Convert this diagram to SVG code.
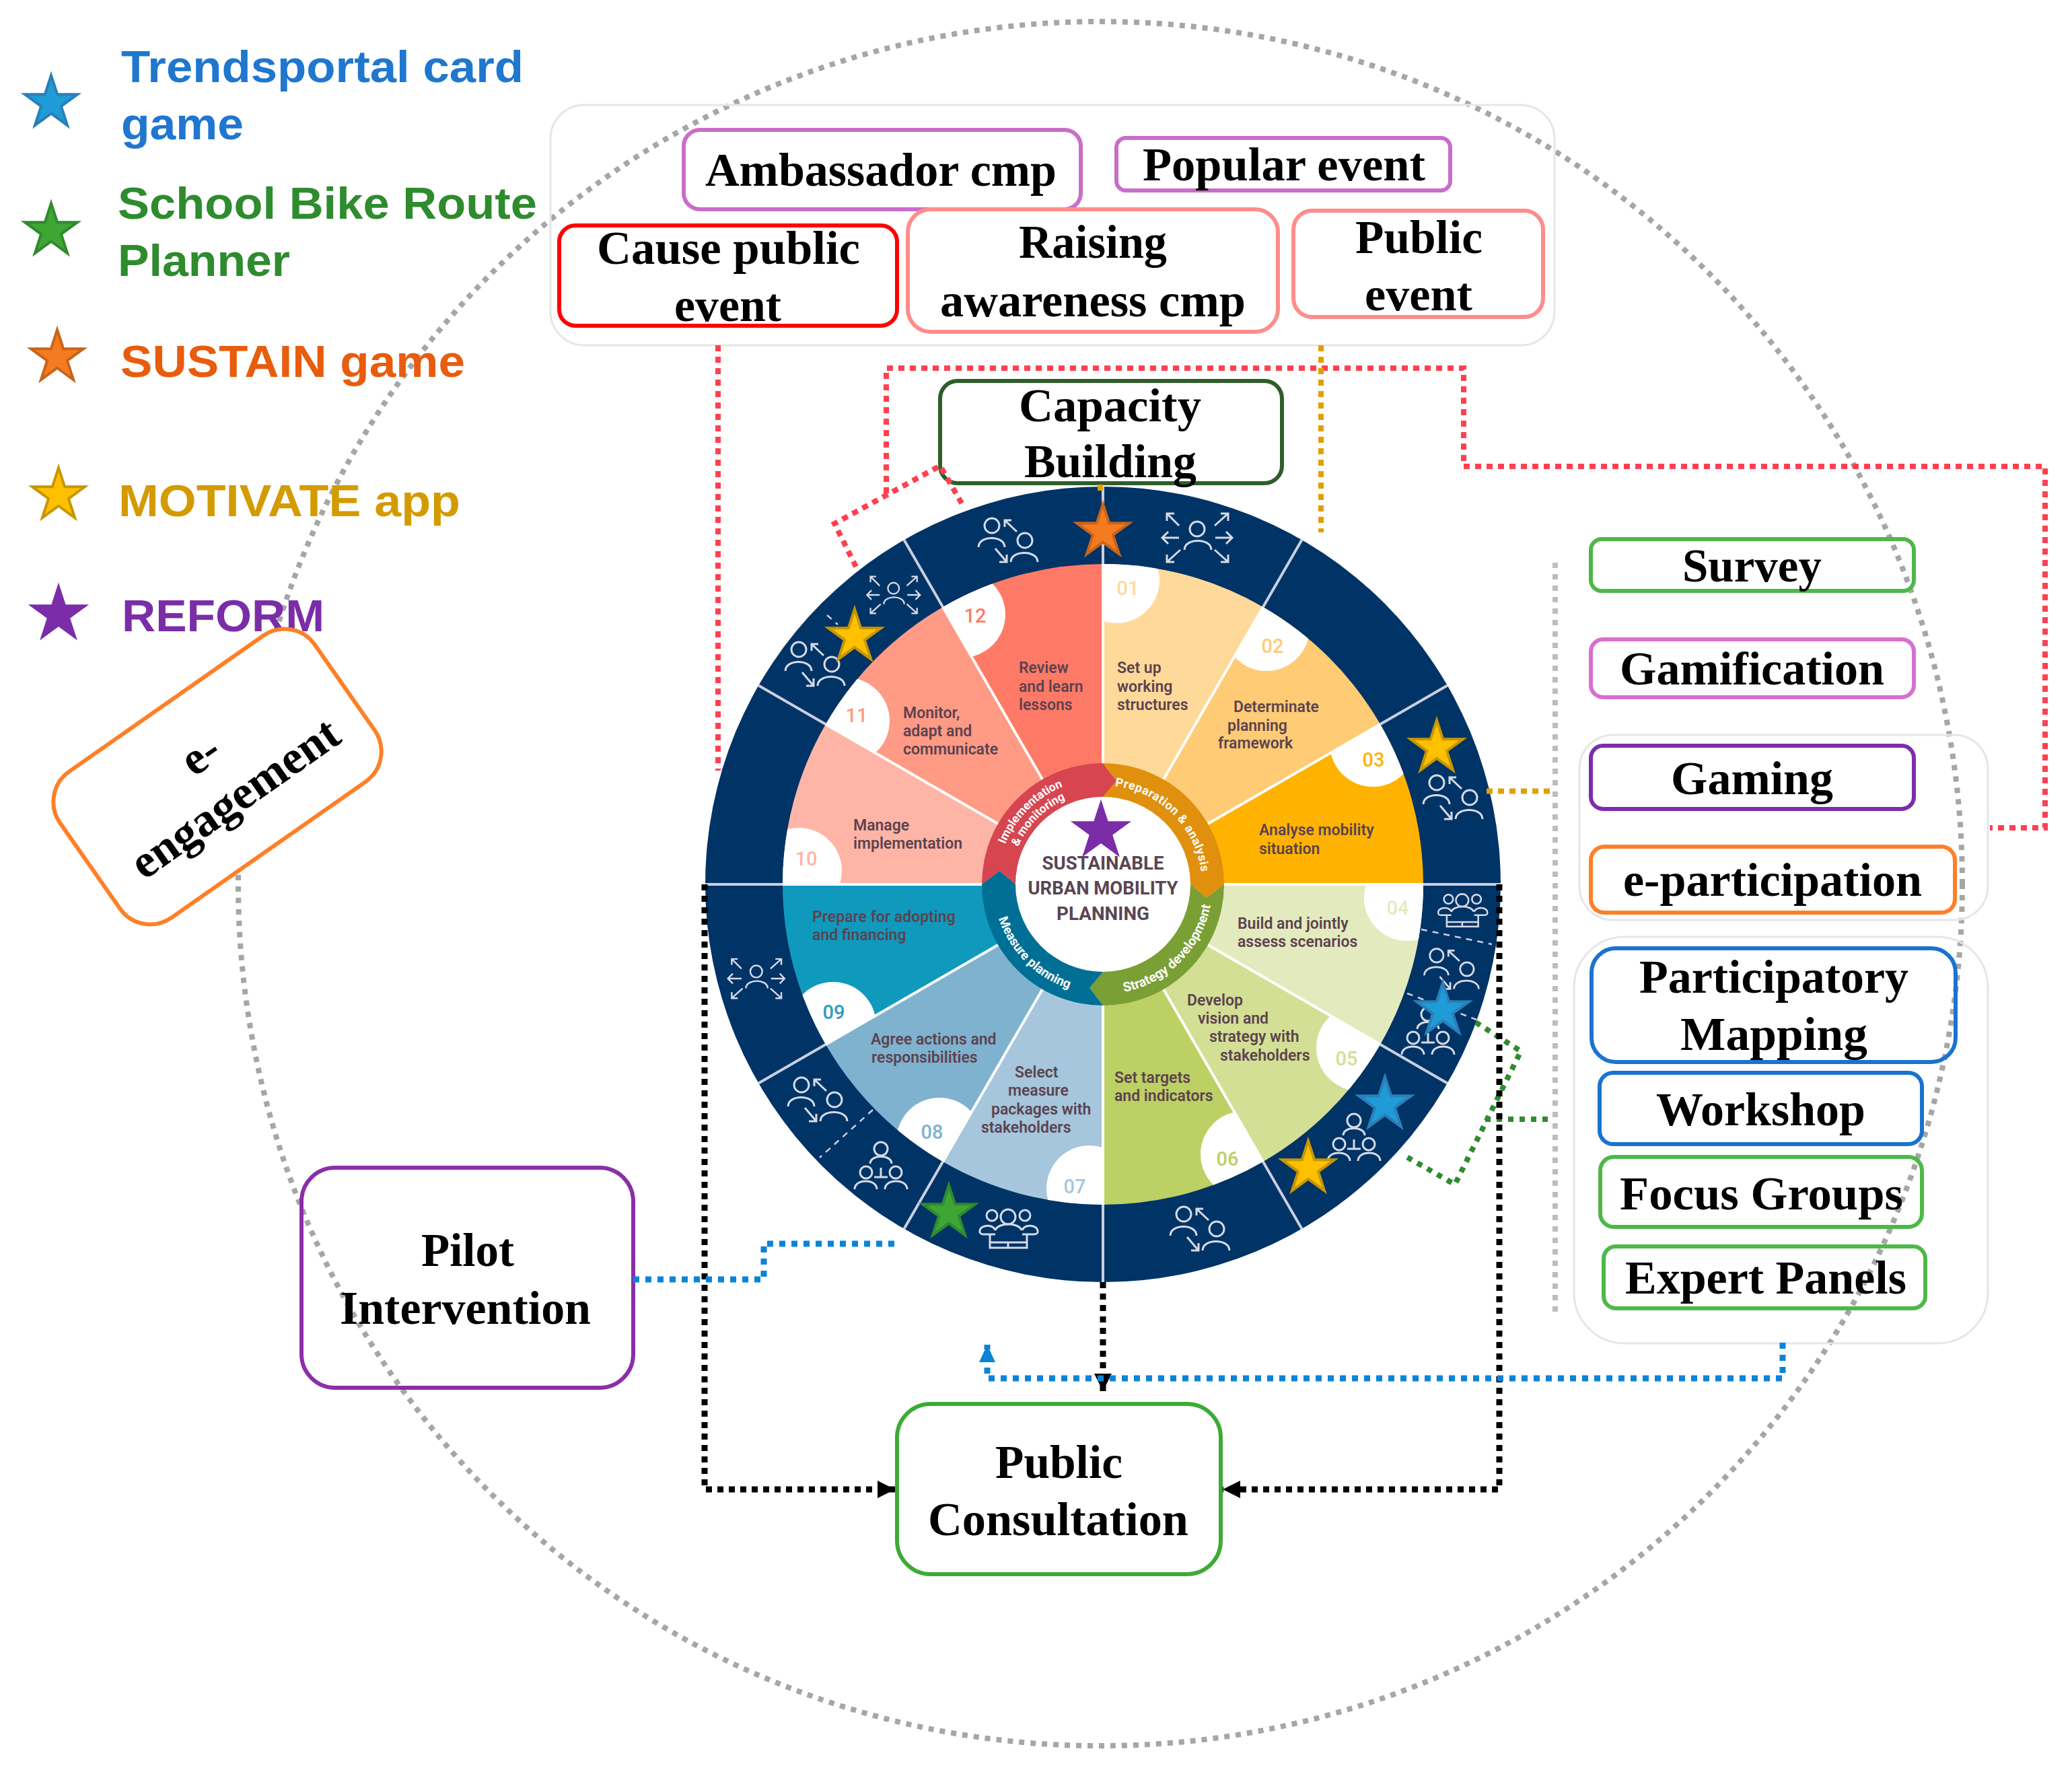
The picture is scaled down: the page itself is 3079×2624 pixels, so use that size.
<svg xmlns="http://www.w3.org/2000/svg" xmlns:xlink="http://www.w3.org/1999/xlink" width="3079" height="2624" viewBox="0 0 3079 2624">
<style>
text{font-family:"Liberation Serif","Times New Roman",serif}
.b{font-family:"Liberation Serif","Times New Roman",serif;font-weight:700;font-size:70px;fill:#000}
.m{text-anchor:middle}
.leg{font-family:"Liberation Sans",Arial,sans-serif;font-weight:700;font-size:66px}
.box{fill:none;stroke-width:6}
.wt{font-family:Roboto,"Noto Sans",sans-serif;font-weight:600;font-size:23px;fill:#5c4350}
.num{font-family:Roboto,"Noto Sans",sans-serif;font-weight:500;font-size:29px;text-anchor:middle}
.ctr{font-family:Roboto,"Noto Sans",sans-serif;font-weight:700;font-size:27px;fill:#5a4552;text-anchor:middle}
.rt{font-family:Roboto,"Noto Sans",sans-serif;font-weight:700;font-size:18px;fill:#fff;text-anchor:middle}
.wsp{stroke:#fff;stroke-width:4;fill:none}
.nsp{stroke:#c9cfe0;stroke-width:4;fill:none}
.ndot{stroke:#c9cfe0;stroke-width:2.5;stroke-dasharray:9 8;fill:none}
.ico{fill:none;stroke:#d5dae6;stroke-width:3}
.con{fill:none;stroke-width:8}
.blk{stroke:#000;stroke-dasharray:9 8;stroke-width:9}
.red{stroke:#ff4050;stroke-dasharray:9 8}
.blu{stroke:#0a84d8;stroke-dasharray:9 9;stroke-width:9}
.gold{stroke:#e0a000;stroke-dasharray:9 8}
.grn{stroke:#2e8b2e;stroke-dasharray:8 9}
.gry{stroke:#bdbdbd;stroke-dasharray:8 9}
.st{stroke-width:4;stroke-linejoin:miter}
.group{fill:none;stroke:#e6e6e6;stroke-width:3}
</style>
<defs>
<polygon id="star" points="0,-41 9.2,-12.7 39,-12.7 14.9,4.8 24.1,33.2 0,15.7 -24.1,33.2 -14.9,4.8 -39,-12.7 -9.2,-12.7"/>
<path id="w1" d="M1639,1314L1639,838A476,476 0 0 1 1877,902Z"/>
<path id="w2" d="M1639,1314L1877,902A476,476 0 0 1 2051,1076Z"/>
<path id="w3" d="M1639,1314L2051,1076A476,476 0 0 1 2115,1314Z"/>
<path id="w4" d="M1639,1314L2115,1314A476,476 0 0 1 2051,1552Z"/>
<path id="w5" d="M1639,1314L2051,1552A476,476 0 0 1 1877,1726Z"/>
<path id="w6" d="M1639,1314L1877,1726A476,476 0 0 1 1639,1790Z"/>
<path id="w7" d="M1639,1314L1639,1790A476,476 0 0 1 1401,1726Z"/>
<path id="w8" d="M1639,1314L1401,1726A476,476 0 0 1 1227,1552Z"/>
<path id="w9" d="M1639,1314L1227,1552A476,476 0 0 1 1163,1314Z"/>
<path id="w10" d="M1639,1314L1163,1314A476,476 0 0 1 1227,1076Z"/>
<path id="w11" d="M1639,1314L1227,1076A476,476 0 0 1 1401,902Z"/>
<path id="w12" d="M1639,1314L1401,902A476,476 0 0 1 1639,838Z"/>
<clipPath id="c1"><use href="#w1"/></clipPath><clipPath id="c2"><use href="#w2"/></clipPath><clipPath id="c3"><use href="#w3"/></clipPath><clipPath id="c4"><use href="#w4"/></clipPath><clipPath id="c5"><use href="#w5"/></clipPath><clipPath id="c6"><use href="#w6"/></clipPath><clipPath id="c7"><use href="#w7"/></clipPath><clipPath id="c8"><use href="#w8"/></clipPath><clipPath id="c9"><use href="#w9"/></clipPath><clipPath id="c10"><use href="#w10"/></clipPath><clipPath id="c11"><use href="#w11"/></clipPath><clipPath id="c12"><use href="#w12"/></clipPath>
<g id="icoA" class="ico"><circle cx="-23" cy="-22" r="11"/><path d="M-43,10C-43,-8 -4,-8 -4,10"/><circle cx="26" cy="0" r="11"/><path d="M5,32C5,14 45,14 45,32"/><path d="M14,-13L-4,-30M-4,-20V-30H6"/><path d="M-18,12L-1,32M-1,21V32H-12"/></g>
<g id="icoB" class="ico"><circle cx="1" cy="-13" r="11"/><path d="M-18,18C-18,0 22,0 22,18"/><path d="M-26,-18L-44,-36M-44,-25V-36H-33M27,-18L47,-36M36,-36H47V-25M-26,0H-51M-42,-9L-51,0L-42,9M28,0H53M44,-9L53,0L44,9M-24,18L-44,36M-44,25V36H-33M27,18L47,36M47,25V36H36"/></g>
<g id="icoC" class="ico"><circle cx="0" cy="-26" r="10"/><path d="M-16,-4C-16,-18 16,-18 16,-4"/><circle cx="-22" cy="9" r="9"/><path d="M-39,34C-39,18 -6,18 -6,34"/><circle cx="22" cy="9" r="9"/><path d="M6,34C6,18 39,18 39,34"/><path d="M-10,16H10M0,2V16"/></g>
<g id="icoD" class="ico"><circle cx="-23" cy="-20" r="8"/><circle cx="1" cy="-18" r="11"/><circle cx="26" cy="-20" r="8"/><path d="M-26,8V28H29V8M-26,20H29M1,20V28M-18,2C-14,-10 17,-10 21,2M-18,8H-36C-44,8 -42,-2 -34,-4C-28,-6 -20,-4 -18,2M22,8H40C48,8 46,-2 38,-4C32,-6 24,-4 22,2"/></g>
<marker id="ak" markerUnits="userSpaceOnUse" markerWidth="28" markerHeight="28" refX="26" refY="14" orient="auto"><path d="M0,1L26,14L0,27Z" fill="#000"/></marker>
<marker id="ab" markerUnits="userSpaceOnUse" markerWidth="28" markerHeight="26" refX="26" refY="13" orient="auto"><path d="M0,1L26,13L0,25Z" fill="#0a84d8"/></marker>
<path id="pPrep" d="M1639,1167A147,147 0 0 1 1786,1314"/>
<path id="pStrat" d="M1639,1477A163,163 0 0 0 1802,1314"/>
<path id="pMeas" d="M1476,1314A163,163 0 0 0 1639,1477"/>
<path id="pImp1" d="M1482,1314A157,157 0 0 1 1639,1157"/>
<path id="pImp2" d="M1501,1314A138,138 0 0 1 1639,1176"/>
</defs>
<rect width="3079" height="2624" fill="#fff"/>

<circle id="outer-dotted-circle" cx="1635" cy="1313" r="1281" fill="none" stroke="#a6a6a6" stroke-width="8" stroke-dasharray="8 9"/>
<rect class="group" x="818" y="156" width="1492" height="357" rx="50"/>
<rect class="group" x="2347" y="1092" width="607" height="275" rx="50"/>
<rect class="group" x="2339" y="1392" width="615" height="604" rx="75"/>

<g id="legend">
<g id="legend-trendsportal"><use href="#star" class="st" x="76" y="153" fill="#1f9bd7" stroke="#2a7fb8"/><text class="leg" x="180" y="122" fill="#1f77cf" textLength="598" lengthAdjust="spacingAndGlyphs">Trendsportal card</text><text class="leg" x="180" y="207" fill="#1f77cf" textLength="182" lengthAdjust="spacingAndGlyphs">game</text></g>
<g id="legend-school"><use href="#star" class="st" x="76" y="343" fill="#3fa535" stroke="#2e8b2e"/><text class="leg" x="175" y="325" fill="#2e8b2e" textLength="623" lengthAdjust="spacingAndGlyphs">School Bike Route</text><text class="leg" x="175" y="410" fill="#2e8b2e" textLength="256" lengthAdjust="spacingAndGlyphs">Planner</text></g>
<g id="legend-sustain"><use href="#star" class="st" x="85" y="531" fill="#f47b20" stroke="#c9641a"/><text class="leg" x="179" y="560" fill="#e85c0d" textLength="512" lengthAdjust="spacingAndGlyphs">SUSTAIN game</text></g>
<g id="legend-motivate"><use href="#star" class="st" x="87" y="736" fill="#ffc000" stroke="#c89600"/><text class="leg" x="176" y="767" fill="#d49b00" textLength="508" lengthAdjust="spacingAndGlyphs">MOTIVATE app</text></g>
<g id="legend-reform"><use href="#star" class="st" x="87" y="913" fill="#7b2da8" stroke="#7b2da8"/><text class="leg" x="181" y="938" fill="#7b2da8" textLength="301" lengthAdjust="spacingAndGlyphs">REFORM</text></g>
</g>

<g id="e-engagement" transform="rotate(-35 323 1154)">
<rect x="92" y="1021.500" width="462" height="265" rx="55" fill="#fff" stroke="#ff7f27" stroke-width="6"/>
<text class="b m" x="321" y="1135">e-</text>
<text class="b m" x="326" y="1218" textLength="362" lengthAdjust="spacingAndGlyphs">engagement</text>
</g>

<g id="wheel">
<circle cx="1639" cy="1314" r="591" fill="#003366"/>
<use href="#w1" fill="#ffd99a"/><use href="#w2" fill="#ffcb75"/><use href="#w3" fill="#ffb300"/><use href="#w4" fill="#e3ebbe"/><use href="#w5" fill="#d3df94"/><use href="#w6" fill="#bdd063"/><use href="#w7" fill="#a5c6dc"/><use href="#w8" fill="#7fb2ce"/><use href="#w9" fill="#0f9abd"/><use href="#w10" fill="#ffb5a5"/><use href="#w11" fill="#ff9a85"/><use href="#w12" fill="#ff7a66"/>
<g fill="#fff">
<circle cx="1659" cy="862" r="64" clip-path="url(#c1)"/><circle cx="1882" cy="933" r="64" clip-path="url(#c2)"/><circle cx="2040" cy="1105" r="64" clip-path="url(#c3)"/><circle cx="2091" cy="1334" r="64" clip-path="url(#c4)"/><circle cx="2020" cy="1557" r="64" clip-path="url(#c5)"/><circle cx="1848" cy="1715" r="64" clip-path="url(#c6)"/><circle cx="1619" cy="1766" r="64" clip-path="url(#c7)"/><circle cx="1396" cy="1695" r="64" clip-path="url(#c8)"/><circle cx="1238" cy="1523" r="64" clip-path="url(#c9)"/><circle cx="1187" cy="1294" r="64" clip-path="url(#c10)"/><circle cx="1258" cy="1071" r="64" clip-path="url(#c11)"/><circle cx="1430" cy="913" r="64" clip-path="url(#c12)"/>
</g>
<g class="wsp">
<path d="M1639,1134V838"/><path d="M1639,1134V838" transform="rotate(30 1639 1314)"/><path d="M1639,1134V838" transform="rotate(60 1639 1314)"/><path d="M1639,1134V838" transform="rotate(90 1639 1314)"/><path d="M1639,1134V838" transform="rotate(120 1639 1314)"/><path d="M1639,1134V838" transform="rotate(150 1639 1314)"/><path d="M1639,1134V838" transform="rotate(180 1639 1314)"/><path d="M1639,1134V838" transform="rotate(210 1639 1314)"/><path d="M1639,1134V838" transform="rotate(240 1639 1314)"/><path d="M1639,1134V838" transform="rotate(270 1639 1314)"/><path d="M1639,1134V838" transform="rotate(300 1639 1314)"/><path d="M1639,1134V838" transform="rotate(330 1639 1314)"/>
</g>
<g class="nsp">
<path d="M1639,838V723"/><path d="M1639,838V723" transform="rotate(30 1639 1314)"/><path d="M1639,838V723" transform="rotate(60 1639 1314)"/><path d="M1639,838V723" transform="rotate(90 1639 1314)"/><path d="M1639,838V723" transform="rotate(120 1639 1314)"/><path d="M1639,838V723" transform="rotate(150 1639 1314)"/><path d="M1639,838V723" transform="rotate(180 1639 1314)"/><path d="M1639,838V723" transform="rotate(210 1639 1314)"/><path d="M1639,838V723" transform="rotate(240 1639 1314)"/><path d="M1639,838V723" transform="rotate(270 1639 1314)"/><path d="M1639,838V723" transform="rotate(300 1639 1314)"/><path d="M1639,838V723" transform="rotate(330 1639 1314)"/>
</g>
<g class="ndot"><path d="M1297,1649L1218,1720"/><path d="M2112,1381L2217,1403"/><path d="M2091,1476L2194,1515"/><path d="M1229,914L1245,928"/></g>
<circle cx="1639" cy="1314" r="132" fill="#fff"/>
<path d="M1459,1314A180,180 0 0 1 1639,1134L1659,1160.300L1639,1184A130,130 0 0 0 1509,1314L1485.300,1294Z" fill="#d64550"/>
<path d="M1639,1134A180,180 0 0 1 1819,1314L1792.700,1334L1769,1314A130,130 0 0 0 1639,1184L1659,1160.300Z" fill="#e0900c"/>
<path d="M1819,1314A180,180 0 0 1 1639,1494L1619,1467.700L1639,1444A130,130 0 0 0 1769,1314L1792.700,1334Z" fill="#7a9f35"/>
<path d="M1639,1494A180,180 0 0 1 1459,1314L1485.300,1294L1509,1314A130,130 0 0 0 1639,1444L1619,1467.700Z" fill="#006f96"/>
<text class="rt" letter-spacing=".6"><textPath href="#pPrep" startOffset="50%">Preparation &amp; analysis</textPath></text>
<text class="rt" style="font-size:19.500px"><textPath href="#pStrat" startOffset="50%">Strategy development</textPath></text>
<text class="rt" style="font-size:19px"><textPath href="#pMeas" startOffset="50%">Measure planning</textPath></text>
<text class="rt" style="font-size:17.500px"><textPath href="#pImp1" startOffset="50%">Implementation</textPath></text>
<text class="rt" style="font-size:17.500px"><textPath href="#pImp2" startOffset="50%">&amp; monitoring</textPath></text>
<text class="ctr" x="1639" y="1292" textLength="181" lengthAdjust="spacingAndGlyphs">SUSTAINABLE</text>
<text class="ctr" x="1639" y="1329" textLength="223" lengthAdjust="spacingAndGlyphs">URBAN MOBILITY</text>
<text class="ctr" x="1639" y="1367" textLength="138" lengthAdjust="spacingAndGlyphs">PLANNING</text>
<g>
<text class="num" x="1676" y="884" fill="#ffd99a">01</text><text class="num" x="1891" y="970" fill="#ffcb75">02</text><text class="num" x="2041" y="1139" fill="#ffb300">03</text><text class="num" x="2077" y="1359" fill="#e3ebbe">04</text><text class="num" x="2001" y="1583" fill="#d3df94">05</text><text class="num" x="1824" y="1732" fill="#bdd063">06</text><text class="num" x="1597" y="1773" fill="#a5c6dc">07</text><text class="num" x="1385" y="1692" fill="#7fb2ce">08</text><text class="num" x="1239" y="1514" fill="#2e9cbe">09</text><text class="num" x="1198" y="1286" fill="#ffb5a5">10</text><text class="num" x="1273" y="1073" fill="#ff9a85">11</text><text class="num" x="1449" y="925" fill="#ff7a66">12</text>
</g>
<g>
<text class="wt" x="1514" y="1000">Review</text><text class="wt" x="1514" y="1028">and learn</text><text class="wt" x="1514" y="1055">lessons</text>
<text class="wt" x="1342" y="1067">Monitor,</text><text class="wt" x="1342" y="1094">adapt and</text><text class="wt" x="1342" y="1121">communicate</text>
<text class="wt" x="1268" y="1234">Manage</text><text class="wt" x="1268" y="1261">implementation</text>
<text class="wt" x="1660" y="1000">Set up</text><text class="wt" x="1660" y="1028">working</text><text class="wt" x="1660" y="1055">structures</text>
<text class="wt" x="1833" y="1058">Determinate</text><text class="wt" x="1824" y="1086">planning</text><text class="wt" x="1810" y="1112">framework</text>
<text class="wt" x="1871" y="1241">Analyse mobility</text><text class="wt" x="1871" y="1269">situation</text>
<text class="wt" x="1839" y="1380">Build and jointly</text><text class="wt" x="1839" y="1407">assess scenarios</text>
<text class="wt" x="1764" y="1494">Develop</text><text class="wt" x="1780" y="1521">vision and</text><text class="wt" x="1797" y="1548">strategy with</text><text class="wt" x="1813" y="1576">stakeholders</text>
<text class="wt" x="1656" y="1609">Set targets</text><text class="wt" x="1656" y="1636">and indicators</text>
<text class="wt" x="1207" y="1370">Prepare for adopting</text><text class="wt" x="1207" y="1397">and financing</text>
<text class="wt" x="1294" y="1552">Agree actions and</text><text class="wt" x="1295" y="1579">responsibilities</text>
<text class="wt" x="1508" y="1601">Select</text><text class="wt" x="1498" y="1628">measure</text><text class="wt" x="1473" y="1656">packages with</text><text class="wt" x="1458" y="1683">stakeholders</text>
</g>
<g>
<use href="#icoA" transform="translate(1497 803)"/><use href="#icoA" transform="translate(1210 987)"/><use href="#icoA" transform="translate(2158 1185)"/><use href="#icoA" transform="translate(2156 1440) scale(.92)"/><use href="#icoA" transform="translate(1782 1826)"/><use href="#icoA" transform="translate(1214 1634)"/>
<use href="#icoB" transform="translate(1778 799)"/><use href="#icoB" transform="translate(1327 884) scale(.76)"/><use href="#icoB" transform="translate(1123 1454) scale(.81)"/>
<use href="#icoC" transform="translate(2122 1533)"/><use href="#icoC" transform="translate(2012 1691)"/><use href="#icoC" transform="translate(1309 1733)"/>
<use href="#icoD" transform="translate(2172 1353) scale(.85)"/><use href="#icoD" transform="translate(1497 1826)"/>
</g>
<g>
<use href="#star" class="st" x="1639" y="790" fill="#f47b20" stroke="#c9641a"/>
<use href="#star" class="st" x="1270" y="946" fill="#ffc000" stroke="#c89600"/>
<use href="#star" class="st" x="2135" y="1111" fill="#ffc000" stroke="#c89600"/>
<use href="#star" class="st" x="1636" y="1235" fill="#7b2da8" stroke="#7b2da8"/>
<use href="#star" class="st" x="1410" y="1802" fill="#3fa535" stroke="#2e8b2e"/>
<use href="#star" class="st" x="2144" y="1501" fill="#1f9bd7" stroke="#2a7fb8"/>
<use href="#star" class="st" x="2058" y="1641" fill="#1f9bd7" stroke="#2a7fb8"/>
<use href="#star" class="st" x="1944" y="1736" fill="#ffc000" stroke="#c89600"/>
</g>
</g>

<g id="ambassador-cmp"><rect class="box" x="1016" y="193" width="590" height="118" rx="24" stroke="#c86dc8"/><text class="b" x="1048" y="276" textLength="522" lengthAdjust="spacingAndGlyphs">Ambassador cmp</text></g>
<g id="popular-event"><rect class="box" x="1659" y="205" width="496" height="78" rx="14" stroke="#c86dc8"/><text class="b" x="1698" y="268" textLength="420" lengthAdjust="spacingAndGlyphs">Popular event</text></g>
<g id="cause-public-event"><rect class="box" x="831" y="335" width="502" height="149" rx="24" stroke="#ff0000"/><text class="b" x="887" y="392" textLength="391" lengthAdjust="spacingAndGlyphs">Cause public</text><text class="b" x="1002" y="477" textLength="159" lengthAdjust="spacingAndGlyphs">event</text></g>
<g id="raising-awareness-cmp"><rect class="box" x="1349" y="311" width="550" height="182" rx="34" stroke="#ff8c8c"/><text class="b" x="1514" y="383" textLength="220" lengthAdjust="spacingAndGlyphs">Raising</text><text class="b" x="1397" y="470" textLength="454" lengthAdjust="spacingAndGlyphs">awareness cmp</text></g>
<g id="public-event"><rect class="box" x="1922" y="313" width="371" height="158" rx="28" stroke="#ff8c8c"/><text class="b" x="2014" y="376" textLength="189" lengthAdjust="spacingAndGlyphs">Public</text><text class="b" x="2028" y="461" textLength="160" lengthAdjust="spacingAndGlyphs">event</text></g>
<g id="capacity-building"><rect class="box" x="1397" y="566" width="508" height="152" rx="26" stroke="#2e5e2a" stroke-width="5"/><text class="b" x="1514" y="626" textLength="271" lengthAdjust="spacingAndGlyphs">Capacity</text><text class="b" x="1522" y="709" textLength="256" lengthAdjust="spacingAndGlyphs">Building</text></g>
<g id="survey"><rect class="box" x="2364" y="801" width="480" height="77" rx="16" stroke="#4db848"/><text class="b" x="2500" y="864" textLength="207" lengthAdjust="spacingAndGlyphs">Survey</text></g>
<g id="gamification"><rect class="box" x="2364" y="950" width="480" height="86" rx="18" stroke="#d86fd0"/><text class="b" x="2407" y="1017" textLength="393" lengthAdjust="spacingAndGlyphs">Gamification</text></g>
<g id="gaming"><rect class="box" x="2364" y="1108" width="480" height="94" rx="18" stroke="#7b2db0"/><text class="b" x="2483" y="1180" textLength="241" lengthAdjust="spacingAndGlyphs">Gaming</text></g>
<g id="e-participation"><rect class="box" x="2364" y="1258" width="541" height="98" rx="20" stroke="#ff7f27"/><text class="b" x="2412" y="1331" textLength="444" lengthAdjust="spacingAndGlyphs">e-participation</text></g>
<g id="participatory-mapping"><rect class="box" x="2365" y="1409" width="541" height="169" rx="36" stroke="#1a73d0"/><text class="b" x="2436" y="1475" textLength="400" lengthAdjust="spacingAndGlyphs">Participatory</text><text class="b" x="2497" y="1560" textLength="278" lengthAdjust="spacingAndGlyphs">Mapping</text></g>
<g id="workshop"><rect class="box" x="2377" y="1594" width="479" height="106" rx="20" stroke="#1a73d0"/><text class="b" x="2461" y="1672" textLength="311" lengthAdjust="spacingAndGlyphs">Workshop</text></g>
<g id="focus-groups"><rect class="box" x="2378" y="1719" width="478" height="104" rx="20" stroke="#4db848"/><text class="b" x="2407" y="1797" textLength="421" lengthAdjust="spacingAndGlyphs">Focus Groups</text></g>
<g id="expert-panels"><rect class="box" x="2383" y="1852" width="478" height="92" rx="18" stroke="#4db848"/><text class="b" x="2415" y="1922" textLength="418" lengthAdjust="spacingAndGlyphs">Expert Panels</text></g>
<g id="pilot-intervention"><rect class="box" x="448" y="1735" width="493" height="327" rx="50" stroke="#8a2fa8"/><text class="b" x="626" y="1881" textLength="138" lengthAdjust="spacingAndGlyphs">Pilot</text><text class="b" x="505" y="1967" textLength="373" lengthAdjust="spacingAndGlyphs">Intervention</text></g>
<g id="public-consultation"><rect class="box" x="1333" y="2086" width="481" height="253" rx="50" stroke="#3cab35"/><text class="b" x="1479" y="2196" textLength="189" lengthAdjust="spacingAndGlyphs">Public</text><text class="b" x="1379" y="2281" textLength="387" lengthAdjust="spacingAndGlyphs">Consultation</text></g>

<g id="connectors">
<path class="con gry" d="M2311,836V1950"/>
<path class="con red" d="M1067,513V1145"/>
<path class="con red" d="M1317,733V547H2175V693H3039V1230H2957"/>
<path class="con red" d="M1272,842L1240,778L1397,692L1432,753"/>
<path class="con gold" d="M1963,513V791"/>
<path class="con gold" d="M2209,1175.500H2304"/>
<path class="con gold" d="M1635,720V732"/>
<path class="con grn" d="M2193,1519L2260,1562L2162,1760L2087,1717"/>
<path class="con grn" d="M2207,1663H2303"/>
<path class="con blk" d="M1047,1314V2213H1330" marker-end="url(#ak)"/>
<path class="con blk" d="M2228,1314V2213H1817" marker-end="url(#ak)"/>
<path class="con blk" d="M1639,1905V2067" marker-end="url(#ak)"/>
<path class="con blu" d="M2649,1995V2048H1467V1998" marker-end="url(#ab)"/>
<path class="con blu" d="M941,1901H1135V1848H1331"/>
</g>
</svg>
